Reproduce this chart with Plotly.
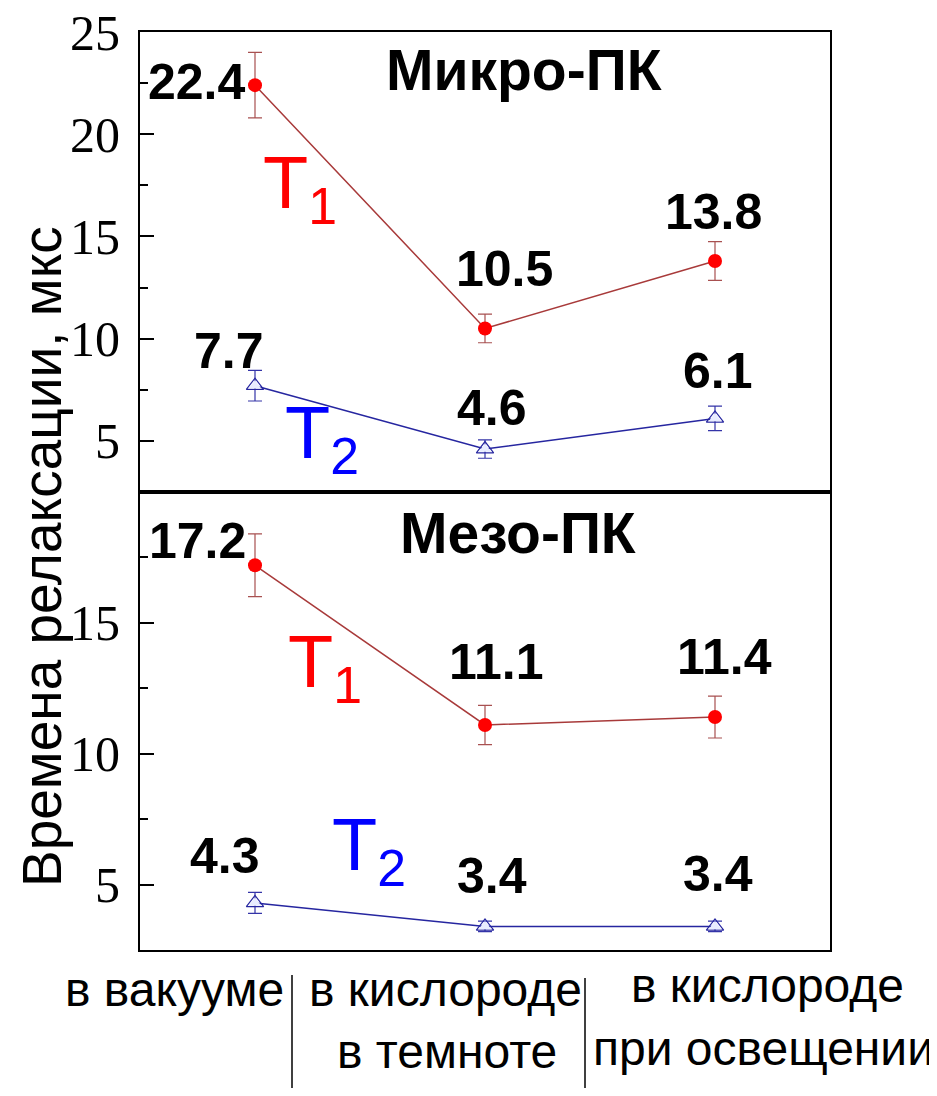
import plotly.graph_objects as go

# ---------------- data ----------------
categories = [0, 1, 2]
category_lines = [["в вакууме"], ["в кислороде", "в темноте"], ["в кислороде", "при освещении"]]

micro_T1 = [22.4, 10.5, 13.8]
micro_T1_err = [1.6, 0.7, 0.95]
micro_T2 = [7.7, 4.6, 6.1]
micro_T2_err = [0.75, 0.45, 0.6]

meso_T1 = [17.2, 11.1, 11.4]
meso_T1_err = [1.2, 0.75, 0.8]
meso_T2 = [4.3, 3.4, 3.4]
meso_T2_err = [0.4, 0.2, 0.2]

panel_titles = ["Микро-ПК", "Мезо-ПК"]
y_title = "Времена релаксации, мкс"

top_ticks = [5, 10, 15, 20, 25]
bottom_ticks = [5, 10, 15]

# ---------------- layout geometry (page pixels) ----------------
OFF = 8                      # default body margin of the html page
W, H = 929, 1080
PL, PR, PT, PB = 140, 830, 32, 950   # plot area in page pixels
PW, PH = PR - PL, PB - PT
L = PL - OFF
T = PT - OFF
R = W - (PR - OFF)
B = H - (PB - OFF)
split = (PB - 492) / PH


def px(x, y):
    return (x - PL) / PW, (PB - y) / PH


T1_LINE = "#a83a3a"
T1_ERR = "#a85050"
T2_LINE = "#2626a0"
T2_ERR = "#3434a8"

fig = go.Figure()


def add_series(y, err, xa, ya, kind):
    if kind == 1:
        marker = dict(symbol="circle", size=14, color="#ff0000",
                      line=dict(width=0))
        line = dict(color=T1_LINE, width=1.5)
        ecol = T1_ERR
    else:
        marker = dict(symbol="triangle-up-open", size=15, color=T2_LINE,
                      line=dict(width=1.2))
        line = dict(color=T2_LINE, width=1.5)
        ecol = T2_ERR
    fig.add_trace(go.Scatter(
        x=categories, y=y, xaxis=xa, yaxis=ya, mode="lines+markers",
        marker=marker, line=line,
        error_y=dict(type="data", array=err, visible=True, color=ecol,
                     thickness=1.2, width=7),
        showlegend=False, hoverinfo="skip"))
    if kind == 2:
        fig.add_trace(go.Scatter(
            x=categories, y=y, xaxis=xa, yaxis=ya, mode="markers",
            marker=dict(symbol="triangle-up", size=11, color="#e8ecff",
                        line=dict(width=0)),
            showlegend=False, hoverinfo="skip"))


add_series(micro_T1, micro_T1_err, "x2", "y2", 1)
add_series(micro_T2, micro_T2_err, "x2", "y2", 2)
add_series(meso_T1, meso_T1_err, "x", "y", 1)
add_series(meso_T2, meso_T2_err, "x", "y", 2)

NUM_FONT = dict(family="Liberation Sans", size=50, color="black", weight="bold")
ann = []

# value labels (offsets in px relative to the point)
offsets = [
    ("x2", "y2", micro_T1, [(-58, 4), (19, 60), (-2, 50)]),
    ("x2", "y2", micro_T2, [(-26, 36), (7, 42), (3, 48)]),
    ("x", "y", meso_T1, [(-58, 25), (11, 64), (9, 61)]),
    ("x", "y", meso_T2, [(-30, 48), (7, 51), (3, 53)]),
]
for xa, ya, vals, offs in offsets:
    for c, v, (dx, dy) in zip(categories, vals, offs):
        ann.append(dict(x=c, y=v, xref=xa, yref=ya, text=f"{v:.1f}",
                        showarrow=False, xshift=dx, yshift=dy - 1,
                        font=NUM_FONT, xanchor="center", yanchor="middle"))

# panel titles
TITLE_FONT = dict(family="Liberation Sans", size=57, color="black", weight="bold")
for (cx, cy), t in zip([(524, 70), (518, 533)], panel_titles):
    xp, yp = px(cx, cy)
    ann.append(dict(x=xp, y=yp, xref="paper", yref="paper", text=t,
                    showarrow=False, font=TITLE_FONT,
                    xanchor="center", yanchor="middle"))

# T labels (left edge / cap top of the "T" in page pixels)
for (tx, ty), sub, col in [
        ((263, 153), "1", "#ff0000"),
        ((285, 403), "2", "#0000ff"),
        ((288, 632), "1", "#ff0000"),
        ((332, 815), "2", "#0000ff")]:
    xp, yp = px(tx - 2, ty - 14)
    ann.append(dict(x=xp, y=yp, xref="paper", yref="paper",
                    text=f"T<sub>{sub}</sub>",
                    showarrow=False,
                    font=dict(family="Liberation Sans", size=74, color=col),
                    xanchor="left", yanchor="top"))

# category labels
CAT_FONT = dict(family="Liberation Sans", size=48, color="black")
cat_pos = [[(174, 989)], [(445, 989), (447, 1051)], [(767, 985), (763, 1048)]]
for lines, poss in zip(category_lines, cat_pos):
    for txt, (cx, cy) in zip(lines, poss):
        xp, yp = px(cx, cy)
        ann.append(dict(x=xp, y=yp, xref="paper", yref="paper", text=txt,
                        showarrow=False, font=CAT_FONT,
                        xanchor="center", yanchor="middle"))

# y title
xp, yp = px(42, 557)
ann.append(dict(x=xp, y=yp, xref="paper", yref="paper", text=y_title,
                showarrow=False, textangle=-90,
                font=dict(family="Liberation Sans", size=55, color="black"),
                xanchor="center", yanchor="middle"))

shapes = []
for sx, y0 in [(292, 975), (585, 978)]:
    x0p, y0p = px(sx, y0)
    _, y1p = px(sx, 1088)
    shapes.append(dict(type="line", xref="paper", yref="paper",
                       x0=x0p, x1=x0p, y0=y0p, y1=y1p,
                       line=dict(color="black", width=1.5)))

axis_common = dict(showline=True, linecolor="black", linewidth=2,
                   mirror=True, showgrid=False, zeroline=False,
                   automargin=False)
yaxis_common = dict(axis_common, ticks="inside", ticklen=14, tickwidth=1.5,
                    tickcolor="black",
                    tickfont=dict(family="Liberation Serif", size=50, color="black"),
                    ticklabelstandoff=8, ticklabeloverflow="allow",
                    minor=dict(ticks="inside", ticklen=8, tickwidth=1.5,
                               tickcolor="black", dtick=2.5, tick0=0))

fig.update_layout(
    template="none",
    width=W, height=H, autosize=False,
    margin=dict(l=L, r=R, t=T, b=B, pad=0),
    paper_bgcolor="white", plot_bgcolor="white",
    xaxis=dict(axis_common, range=[-0.5, 2.5], showticklabels=False,
               ticks="", anchor="y"),
    xaxis2=dict(axis_common, range=[-0.5, 2.5], showticklabels=False,
                ticks="", anchor="y2", matches="x"),
    yaxis=dict(yaxis_common, domain=[0, split], range=[2.5, 20],
               tickvals=bottom_ticks, anchor="x"),
    yaxis2=dict(yaxis_common, domain=[split, 1], range=[2.5, 25],
                tickvals=top_ticks, anchor="x2"),
    annotations=ann,
    shapes=shapes,
)

fig.write_html("out.html")
